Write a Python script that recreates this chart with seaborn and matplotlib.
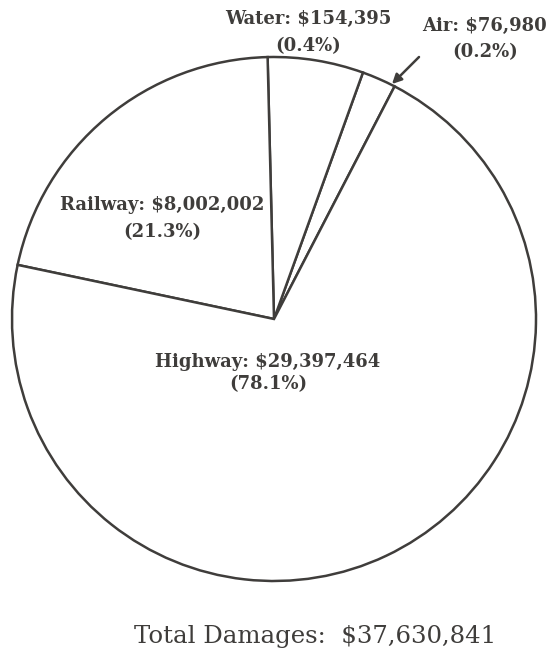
import matplotlib
matplotlib.use("Agg")
import matplotlib.pyplot as plt
import seaborn as sns

# damages by transport mode, as printed on the chart
modes = ["Air", "Water", "Railway", "Highway"]
damages = [76980, 154395, 8002002, 29397464]
percents = [0.2, 0.4, 21.3, 78.1]
total = 37630841
# wedge sizes as drawn (the original enlarges the two tiny slices)
drawn_share = [2.1, 5.9, 21.3, 70.7]

ink = "#3f3d3b"

sns.set_theme(style="white")
plt.rcParams["font.family"] = ["DejaVu Serif"]

fig = plt.figure(figsize=(5.54, 6.64), dpi=100)
ax = fig.add_axes([0, 0, 1, 1])
ax.axis("off")

wedges, _ = ax.pie(drawn_share, startangle=-62.6, counterclock=False,
                   center=(274, 319), radius=262,
                   colors=["white"] * 4,
                   wedgeprops=dict(edgecolor=ink, linewidth=1.8))
ax.set_ylim(664, 0)
ax.set_xlim(0, 554)

lab = {m: (f"{m}: ${d:,}", f"({p}%)") for m, d, p in zip(modes, damages, percents)}
# label positions in pixels (x, line1 y, line2 y)
pos = {"Water": (308, 19, 46), "Air": (485, 26, 52),
       "Railway": (162, 205, 232), "Highway": (268, 362, 384)}
for m, (x, y1, y2) in pos.items():
    ax.text(x, y1, lab[m][0], ha="center", va="center", fontsize=13,
            fontweight="bold", color=ink)
    ax.text(x, y2, lab[m][1], ha="center", va="center", fontsize=13,
            fontweight="bold", color=ink)

ax.annotate("", xy=(392, 84), xytext=(419, 57),
            arrowprops=dict(arrowstyle="-|>", color=ink, lw=1.8,
                            mutation_scale=14, shrinkA=0, shrinkB=0))

ax.text(315, 636, f"Total Damages:  ${total:,}", ha="center", va="center",
        fontsize=17.6, color=ink, fontweight="medium")

fig.savefig("out.png", dpi=100)
